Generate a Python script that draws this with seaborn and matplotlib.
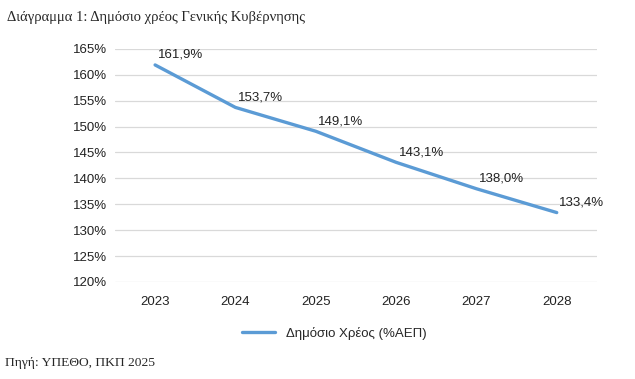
import pandas as pd
import seaborn as sns
import matplotlib.pyplot as plt
from matplotlib.ticker import FuncFormatter

# Data
years = ["2023", "2024", "2025", "2026", "2027", "2028"]
debt = [161.9, 153.7, 149.1, 143.1, 138.0, 133.4]
series_name = "Δημόσιο Χρέος (%ΑΕΠ)"

df = pd.DataFrame({"Έτος": years, series_name: debt})

sns.set_style("white")
plt.rcParams["font.family"] = ["Liberation Sans", "DejaVu Sans"]

fig = plt.figure(figsize=(6.35, 3.79), dpi=100)
ax = fig.add_axes([0.181, 0.256, 0.759, 0.615])

line_color = "#5B9BD5"
sns.lineplot(data=df, x="Έτος", y=series_name, color=line_color, linewidth=2.4,
             sort=False, ax=ax, label=series_name)

# Data labels
for i, v in enumerate(debt):
    ax.annotate(f"{v:.1f}%".replace(".", ","), (i, v), xytext=(18, 3),
                textcoords="offset points", ha="center", va="bottom",
                fontsize=9.5, color="#222222")

ax.set_xlim(-0.5, len(years) - 0.5)
ax.set_ylim(120, 165)
ax.set_yticks(range(120, 166, 5))
ax.yaxis.set_major_formatter(FuncFormatter(lambda v, _: f"{v:.0f}%"))
ax.grid(axis="y", color="#d9d9d9", linewidth=0.9)
ax.set_axisbelow(True)
for s in ax.spines.values():
    s.set_visible(False)
ax.tick_params(axis="both", length=0, labelsize=9.5, colors="#222222")
ax.tick_params(axis="x", pad=10)
ax.tick_params(axis="y", pad=6)
ax.set_xlabel("")
ax.set_ylabel("")

ax.legend(loc="center", bbox_to_anchor=(0.455, -0.22), frameon=False,
          fontsize=9.5, handlelength=2.5, handletextpad=0.8)

fig.text(0.011, 0.955, "Διάγραμμα 1: Δημόσιο χρέος Γενικής Κυβέρνησης",
         family=["Liberation Serif", "DejaVu Serif"], fontsize=10.5, va="center")
fig.text(0.008, 0.042, "Πηγή: ΥΠΕΘΟ, ΠΚΠ 2025",
         family=["Liberation Serif", "DejaVu Serif"], fontsize=9.7, va="center")

fig.savefig("out.png", dpi=100)
